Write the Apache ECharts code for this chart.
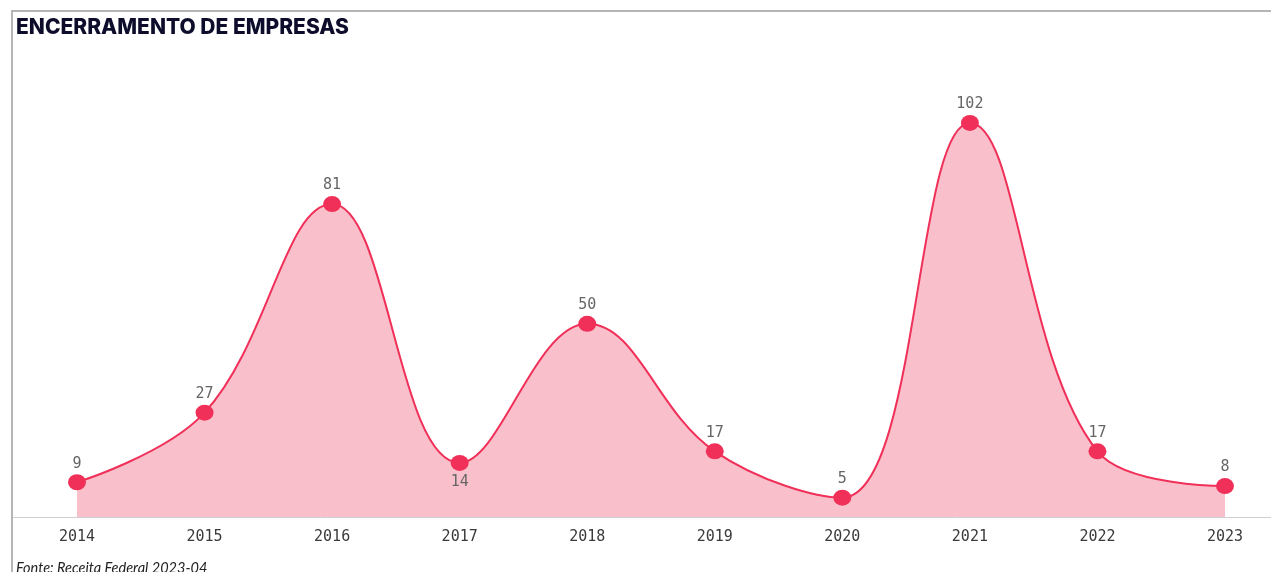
<!DOCTYPE html>
<html><head><meta charset="utf-8">
<script src="https://cdn.jsdelivr.net/npm/echarts@6/dist/echarts.min.js"></script>
<style>html,body{margin:0;padding:0;background:#fff}#c{width:1271px;height:572px}</style>
</head><body><div id="c"></div>
<script>
const years = ['2014','2015','2016','2017','2018','2019','2020','2021','2022','2023'];
const closures = [9, 27, 81, 14, 50, 17, 5, 102, 17, 8];
const labelBelow = ['2017'];

const chart = echarts.init(document.getElementById('c'));
const data = closures.map((v, i) => ({
  value: v,
  label: labelBelow.includes(years[i]) ? {position: 'bottom', distance: 4} : undefined
}));
chart.setOption({
  animation: false,
  grid: {left: 77, right: 46, top: 92, bottom: 55},
  title: [{
    text: 'ENCERRAMENTO DE EMPRESAS', left: 11, top: 12,
    textStyle: {fontFamily: 'Inter', fontWeight: 800, fontSize: 21, color: '#0d0c2b'}
  }, {
    text: 'Fonte: Receita Federal 2023-04', left: 11, top: 556,
    textStyle: {fontFamily: 'Lato', fontStyle: 'italic', fontWeight: 'normal', fontSize: 14.5, color: '#222'}
  }],
  graphic: [
    {type: 'line', shape: {x1: 12, y1: 11, x2: 1271, y2: 11}, style: {stroke: '#b5b5b5', lineWidth: 2}},
    {type: 'line', shape: {x1: 12, y1: 10, x2: 12, y2: 572}, style: {stroke: '#b5b5b5', lineWidth: 2}},
    {type: 'line', shape: {x1: 13, y1: 517.5, x2: 1271, y2: 517.5}, style: {stroke: '#d0d0d0', lineWidth: 1}}
  ],
  xAxis: {
    type: 'category', data: years, boundaryGap: false,
    axisLine: {show: false}, axisTick: {show: false},
    axisLabel: {fontFamily: 'DejaVu Sans Mono', fontSize: 15, color: '#3a3a3a', margin: 13}
  },
  yAxis: {type: 'value', min: 0, max: 110, show: false, splitLine: {show: false}},
  series: [{
    type: 'line', data: data, smooth: 0.4,
    symbol: 'circle', symbolSize: [18, 16],
    itemStyle: {color: '#f03058'},
    lineStyle: {color: '#f03058', width: 2},
    areaStyle: {color: '#f9c0cb', opacity: 1},
    label: {show: true, position: 'top', distance: 3, fontFamily: 'DejaVu Sans Mono', fontSize: 15, color: '#666'}
  }]
});
</script></body></html>
